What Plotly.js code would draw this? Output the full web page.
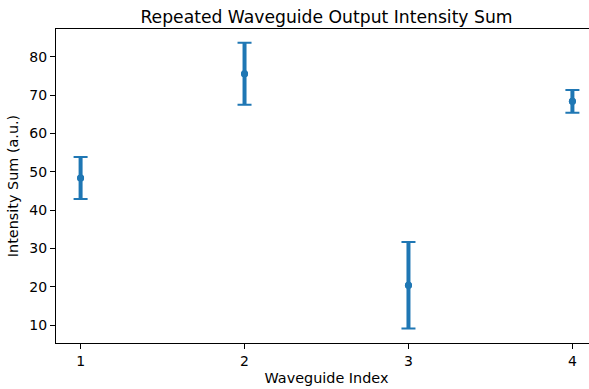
<!DOCTYPE html>
<html><head><meta charset="utf-8">
<script src="https://cdn.plot.ly/plotly-3.0.1.min.js"></script>
<style>html,body{margin:0;padding:0;overflow:hidden;background:#fff;}#plot{width:610px;height:389px;}</style>
</head><body><div id="plot"></div>
<script>
const waveguideIndex = [1, 2, 3, 4];
const intensitySum = [48.4, 75.6, 20.4, 68.4];
const intensityErr = [5.5, 8.1, 11.3, 3.0];
const xTicks = [1, 2, 3, 4];
const yTicks = [10, 20, 30, 40, 50, 60, 70, 80];

const bars = {
  x: waveguideIndex, y: intensitySum, type: 'scatter', mode: 'markers',
  marker: {color: '#1f77b4', size: 7},
  error_y: {type: 'data', array: intensityErr, visible: true, color: '#1f77b4', thickness: 4, width: 0}
};
const caps = {
  x: waveguideIndex, y: intensitySum, type: 'scatter', mode: 'markers',
  marker: {color: '#1f77b4', size: 7},
  error_y: {type: 'data', array: intensityErr, visible: true, color: '#1f77b4', thickness: 2, width: 7}
};
const font = {family: 'DejaVu Sans, sans-serif', color: '#000'};
const layout = {
  width: 610, height: 389,
  margin: {l: 56, r: 13, t: 29, b: 46},
  paper_bgcolor: '#fff', plot_bgcolor: '#fff',
  showlegend: false,
  font: font,
  title: {text: 'Repeated Waveguide Output Intensity Sum', font: {family: font.family, size: 17.2, color: '#000'}, x: 0.5, xref: 'paper', y: 1, yref: 'paper', yanchor: 'bottom', pad: {b: 6}},
  xaxis: {range: [0.85, 4.15], tickvals: xTicks, ticks: 'outside', ticklen: 5, tickcolor: '#000', showgrid: false, zeroline: false,
    showline: true, linecolor: '#000', linewidth: 1, mirror: true, tickfont: {size: 14, color: '#000'},
    title: {text: 'Waveguide Index', font: {size: 14.4, color: '#000'}, standoff: 5}},
  yaxis: {range: [5.3, 87.3], tickvals: yTicks, ticks: 'outside', ticklen: 5, tickcolor: '#000', showgrid: false, zeroline: false,
    showline: true, linecolor: '#000', linewidth: 1, mirror: true, tickfont: {size: 14, color: '#000'},
    title: {text: 'Intensity Sum (a.u.)', font: {size: 14.4, color: '#000'}, standoff: 7}}
};
Plotly.newPlot('plot', [bars, caps], layout, {displayModeBar: false, staticPlot: true});
</script></body></html>
